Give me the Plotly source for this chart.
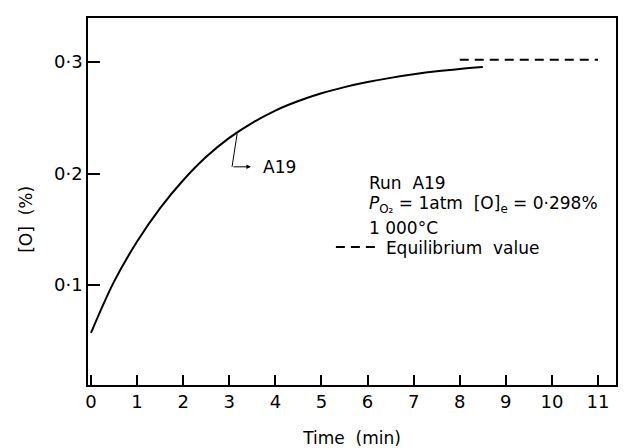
import plotly.graph_objects as go

# ---- data ----
time_min = [0, 0.5, 1, 1.5, 2, 2.5, 3, 3.5, 4, 4.5, 5, 5.5, 6, 6.5, 7, 7.5, 8, 8.5]
oxygen_pct = [0.057, 0.103, 0.139, 0.169, 0.194, 0.215, 0.232, 0.2455, 0.2565, 0.265,
              0.272, 0.2775, 0.282, 0.2858, 0.289, 0.2917, 0.2938, 0.2955]
equil_time = [8, 11]
equil_value = [0.302, 0.302]
x_ticks = list(range(0, 12))
x_tick_labels = [str(v) for v in x_ticks]
y_ticks = [0.1, 0.2, 0.3]
y_tick_labels = ["0·1", "0·2", "0·3"]

FONT = "DejaVu Sans, Liberation Sans, sans-serif"
TXT = dict(family=FONT, size=17, color="black")

fig = go.Figure()
fig.add_trace(go.Scatter(x=time_min, y=oxygen_pct, mode="lines",
                         line=dict(color="black", width=2, shape="spline", smoothing=1.0),
                         showlegend=False, hoverinfo="skip"))
fig.add_trace(go.Scatter(x=equil_time, y=equil_value, mode="lines",
                         line=dict(color="black", width=2, dash="9px,6px"),
                         name="Equilibrium  value", showlegend=True, hoverinfo="skip"))

# A19 pointer
fig.add_shape(type="line", x0=3.17, y0=0.2355, x1=3.06, y1=0.206,
              line=dict(color="black", width=1))
fig.add_annotation(x=3.47, y=0.206, ax=3.06, ay=0.206, axref="x", ayref="y",
                   text="", showarrow=True, arrowhead=2, arrowsize=0.9,
                   arrowwidth=1, arrowcolor="black")
fig.add_annotation(x=3.68, y=0.206, text="A19", showarrow=False,
                   xanchor="left", yanchor="middle", font=TXT)

# text block
fig.add_annotation(x=5.98, y=0.1912, text="Run  A19", showarrow=False,
                   xanchor="left", yanchor="middle", font=TXT)
fig.add_annotation(x=5.98, y=0.1722,
                   text="<i>P</i><sub>O₂</sub> = 1atm  [O]<sub>e</sub> = 0·298%",
                   showarrow=False, xanchor="left", yanchor="middle", font=TXT)
fig.add_annotation(x=5.98, y=0.1515, text="1 000°C", showarrow=False,
                   xanchor="left", yanchor="middle", font=TXT)

# y-axis title
fig.add_annotation(xref="paper", yref="paper", x=-0.118, y=0.452,
                   text="[O]  (%)", textangle=-90, showarrow=False,
                   xanchor="center", yanchor="middle", font=TXT)

fig.update_layout(
    width=629, height=448,
    margin=dict(l=88, r=13, t=18, b=63),
    paper_bgcolor="white", plot_bgcolor="white",
    font=dict(family=FONT, size=18, color="black"),
    legend=dict(x=0.46, y=0.375, xanchor="left", yanchor="middle",
                bgcolor="rgba(0,0,0,0)", font=TXT, itemwidth=45),
    xaxis=dict(range=[-0.065, 11.39], tickvals=x_ticks, ticktext=x_tick_labels,
               ticks="inside", ticklen=10, tickwidth=1.5, tickcolor="black",
               showline=True, linecolor="black", linewidth=1.5, mirror=True,
               showgrid=False, zeroline=False, automargin=False,
               title=dict(text="Time  (min)", font=TXT, standoff=22)),
    yaxis=dict(range=[0.0103, 0.3395], tickvals=y_ticks, ticktext=y_tick_labels,
               ticks="inside", ticklen=12, tickwidth=1.5, tickcolor="black",
               showline=True, linecolor="black", linewidth=1.5, mirror=True,
               showgrid=False, zeroline=False, automargin=False),
)

fig.write_html("out.html")
